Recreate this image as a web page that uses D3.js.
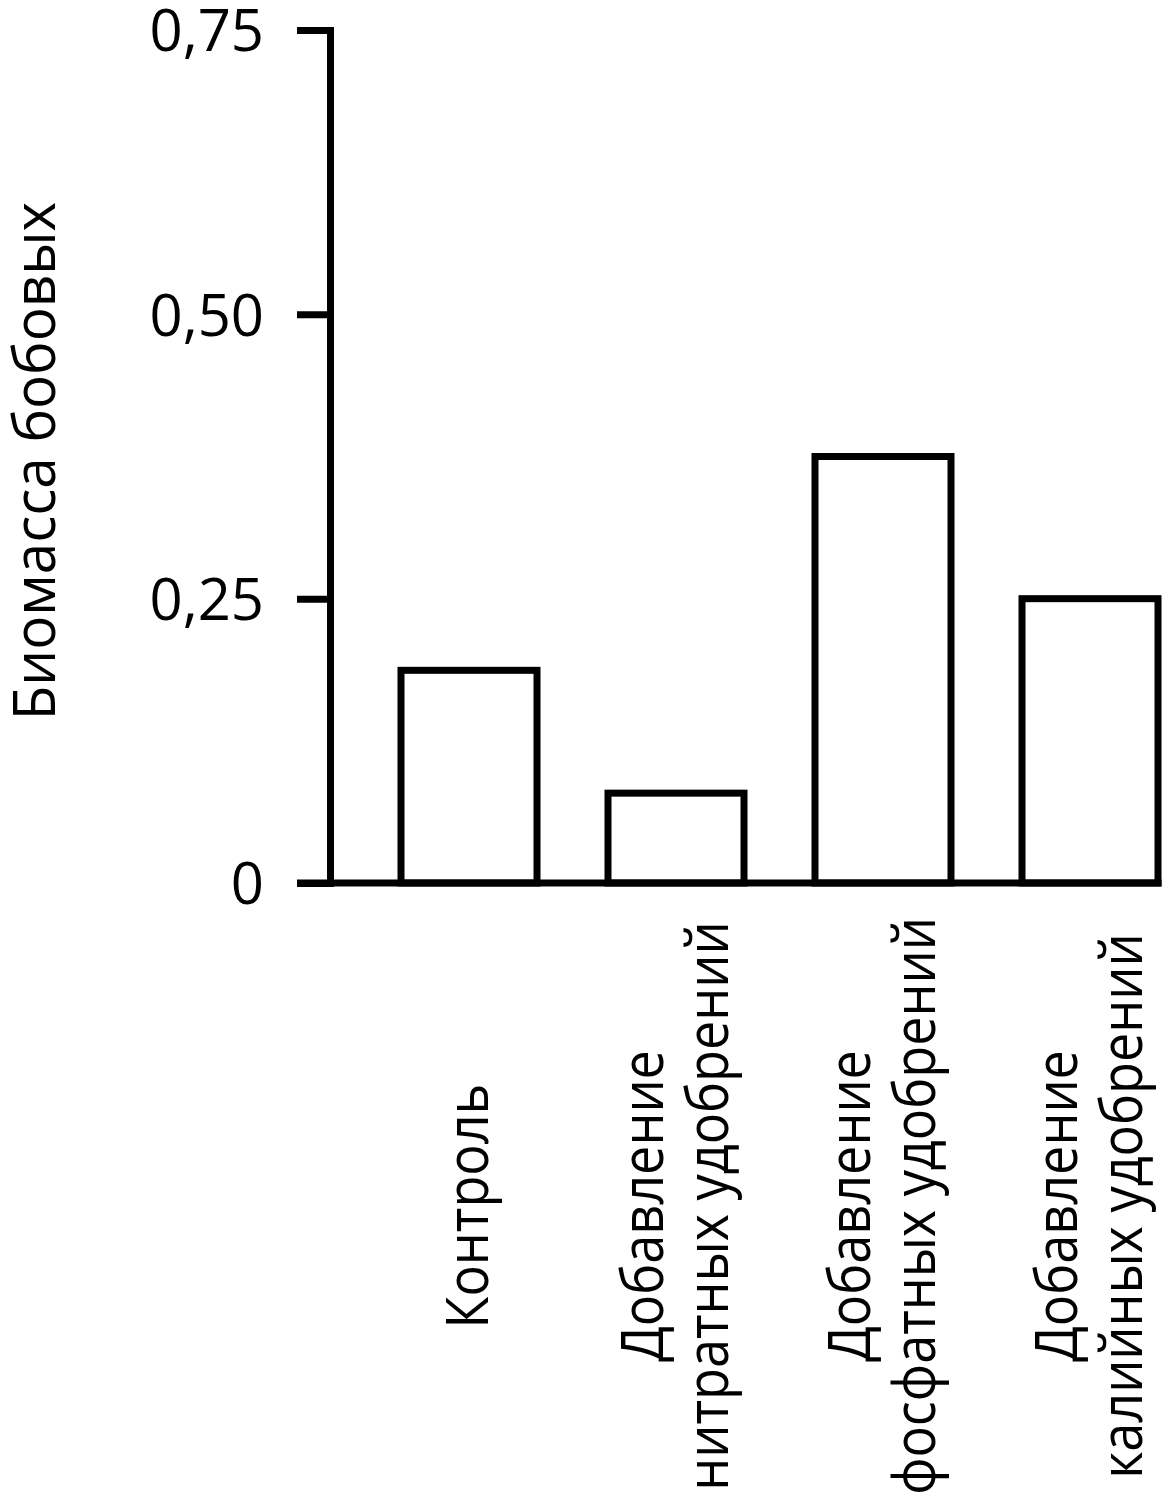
<!DOCTYPE html>
<html>
<head>
<meta charset="utf-8">
<script src="https://cdn.jsdelivr.net/npm/d3@7"></script>
<style>
  html, body { margin: 0; padding: 0; background: #fff; }
  svg { display: block; }
  text { font-family: "Open Sans", "Noto Sans", sans-serif; fill: #000; }
</style>
</head>
<body>
<svg id="chart" width="1169" height="1500"></svg>
<script>
// Data
const categories = [
  ["Контроль"],
  ["Добавление", "нитратных удобрений"],
  ["Добавление", "фосфатных удобрений"],
  ["Добавление", "калийных удобрений"]
];
const values = [0.187, 0.079, 0.375, 0.25];
const yTicks = [0, 0.25, 0.5, 0.75];
const yTickLabels = ["0", "0,25", "0,50", "0,75"];
const yTitle = "Биомасса бобовых";

const svg = d3.select("#chart");
const axisX = 330, baseY = 883, topY = 30;
const SW = 7;
const fontSize = 58;

const x = d3.scaleBand()
  .domain(d3.range(categories.length))
  .range([axisX, 1158])
  .paddingInner(0.343)
  .paddingOuter(0.1715)
  .align(1);

const y = d3.scaleLinear().domain([0, 0.75]).range([baseY, topY]);

// Bars
svg.append("g").selectAll("rect")
  .data(values)
  .join("rect")
  .attr("x", (d, i) => x(i))
  .attr("y", d => y(d))
  .attr("width", x.bandwidth())
  .attr("height", d => y(0) - y(d))
  .attr("fill", "#fff")
  .attr("stroke", "#000")
  .attr("stroke-width", SW);

// Y axis
const yAxis = d3.axisLeft(y)
  .tickValues(yTicks)
  .tickFormat((d, i) => yTickLabels[i])
  .tickSizeInner(33)
  .tickSizeOuter(0)
  .tickPadding(33);

const gy = svg.append("g").attr("transform", `translate(${axisX},0)`).call(yAxis);
gy.select(".domain")
  .attr("stroke", "#000")
  .attr("stroke-width", SW)
  .attr("stroke-linecap", "square");
gy.selectAll(".tick line").attr("stroke", "#000").attr("stroke-width", SW);
gy.selectAll(".tick text")
  .attr("font-size", fontSize)
  .attr("font-family", "'Open Sans', 'Noto Sans', sans-serif")
  .attr("dy", "0.36em")
  .attr("fill", "#000");

// X axis baseline
svg.append("line")
  .attr("x1", axisX - 33)
  .attr("x2", x(categories.length - 1) + x.bandwidth() + SW / 2)
  .attr("y1", y(0)).attr("y2", y(0))
  .attr("stroke", "#000")
  .attr("stroke-width", SW);

// Category labels (rotated)
const lineH = 65;
const labelCY = 1206;
categories.forEach((lines, i) => {
  const cx = x(i) + x.bandwidth() / 2;
  const n = lines.length;
  lines.forEach((ln, j) => {
    const bx = cx + 19 + (j - (n - 1) / 2) * lineH;
    svg.append("text")
      .attr("transform", `translate(${bx},${labelCY}) rotate(-90) scale(0.9,1)`)
      .attr("text-anchor", "middle")
      .attr("font-size", fontSize)
      .text(ln);
  });
});

// Y title
svg.append("text")
  .attr("transform", `translate(55,461) rotate(-90) scale(0.975,1)`)
  .attr("text-anchor", "middle")
  .attr("font-size", fontSize)
  .text(yTitle);
</script>
</body>
</html>
